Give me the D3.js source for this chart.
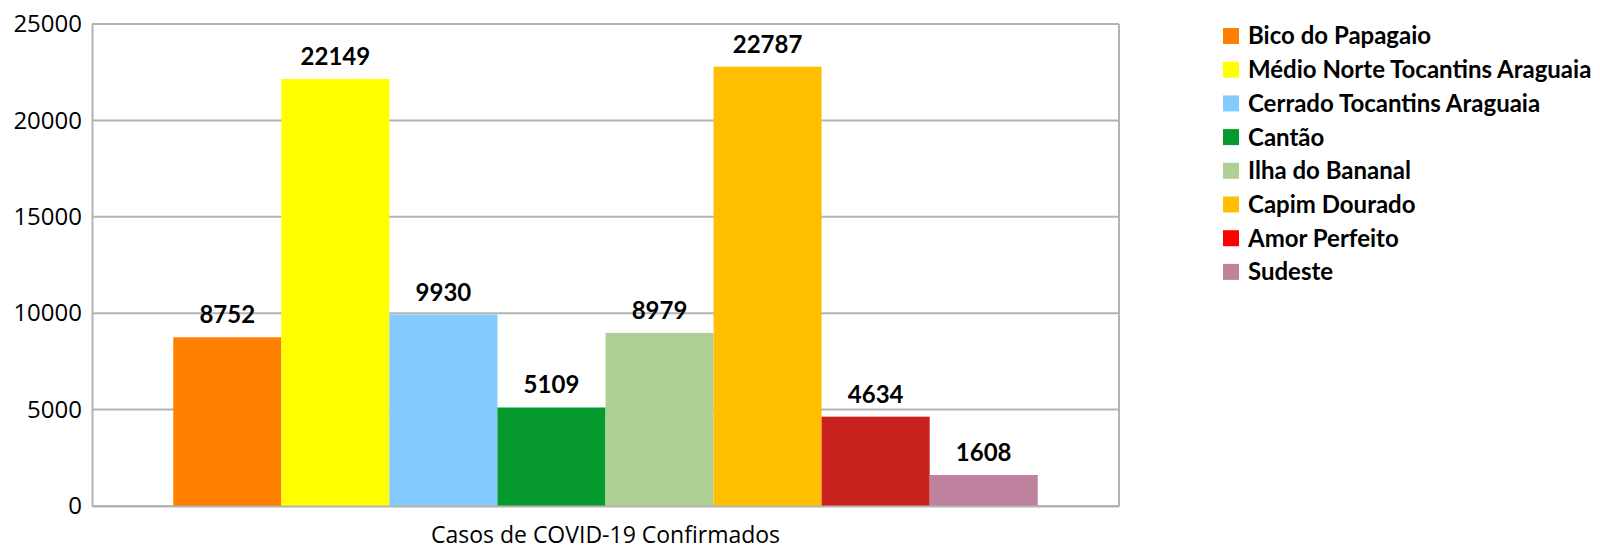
<!DOCTYPE html>
<html>
<head>
  <meta charset="utf-8">
  <title>Casos de COVID-19 Confirmados</title>
  <script src="https://d3js.org/d3.v7.min.js"></script>
  <style>
    body { margin: 0; background: #fff; }
  </style>
</head>
<body>

  <svg width="1600" height="549"></svg>

  <script>

    // Data
    const categories = ["Casos de COVID-19 Confirmados"];
    const regions = [
      "Bico do Papagaio",
      "Médio Norte Tocantins Araguaia",
      "Cerrado Tocantins Araguaia",
      "Cantão",
      "Ilha do Bananal",
      "Capim Dourado",
      "Amor Perfeito",
      "Sudeste"
    ];
    const cases = [8752, 22149, 9930, 5109, 8979, 22787, 4634, 1608];
    const yTicks = [0, 5000, 10000, 15000, 20000, 25000];

    const barColors = ["#ff8000", "#ffff00", "#83caff", "#069a2e", "#afd095", "#ffbf00", "#c9211e", "#bf819e"];
    const legendColors = ["#ff8000", "#ffff00", "#83caff", "#069a2e", "#afd095", "#ffbf00", "#ff0000", "#bf819e"];

    // Chart dimensions
    const width = 1600;
    const height = 549;
    const margin = { top: 24, right: 481, bottom: 43, left: 92 };
    const chartWidth = width - margin.left - margin.right;
    const chartHeight = height - margin.top - margin.bottom;

    const svg = d3.select("svg")
      .attr("width", width)
      .attr("height", height);

    const chart = svg.append("g")
      .attr("transform", `translate(${margin.left},${margin.top})`);

    // Scales
    const xScale = d3.scaleBand()
      .domain(categories)
      .range([0, chartWidth])
      .paddingOuter(0.094);

    const xInner = d3.scaleBand()
      .domain(regions)
      .range([0, xScale.bandwidth()]);

    const yScale = d3.scaleLinear()
      .domain([0, 25000])
      .range([chartHeight, 0]);

    // Gridlines
    chart.append("g")
      .selectAll("line")
      .data(yTicks)
      .join("line")
        .attr("x1", 0)
        .attr("x2", chartWidth)
        .attr("y1", d => yScale(d))
        .attr("y2", d => yScale(d))
        .attr("stroke", "#b3b3b3")
        .attr("stroke-width", 2);

    // Right border of plot
    chart.append("line")
      .attr("x1", chartWidth).attr("x2", chartWidth)
      .attr("y1", 0).attr("y2", chartHeight)
      .attr("stroke", "#b3b3b3")
      .attr("stroke-width", 2);

    // Bars
    const group = chart.selectAll(".cat")
      .data(categories)
      .join("g")
        .attr("class", "cat")
        .attr("transform", d => `translate(${xScale(d)},0)`);

    group.selectAll("rect")
      .data(regions.map((r, i) => ({ name: r, value: cases[i], color: barColors[i] })))
      .join("rect")
        .attr("x", d => xInner(d.name))
        .attr("y", d => yScale(d.value))
        .attr("width", xInner.bandwidth())
        .attr("height", d => chartHeight - yScale(d.value))
        .attr("fill", d => d.color);

    // Value labels
    group.selectAll("text.value")
      .data(regions.map((r, i) => ({ name: r, value: cases[i] })))
      .join("text")
        .attr("class", "value")
        .attr("x", d => xInner(d.name) + xInner.bandwidth() / 2)
        .attr("y", d => yScale(d.value) - 14)
        .attr("text-anchor", "middle")
        .attr("font-family", "Lato, 'Open Sans', sans-serif")
        .attr("font-weight", "bold")
        .attr("font-size", 24)
        .attr("fill", "#000")
        .text(d => d.value);

    // Y axis
    const yAxis = chart.append("g")
      .call(d3.axisLeft(yScale).tickValues(yTicks).tickSize(0).tickPadding(10).tickFormat(d3.format("d")));
    yAxis.select(".domain").attr("stroke", "#b3b3b3").attr("stroke-width", 2);
    yAxis.selectAll("text")
      .attr("font-family", "'Open Sans', sans-serif")
      .attr("font-size", 24)
      .attr("fill", "#000");

    // X axis
    const xAxis = chart.append("g")
      .attr("transform", `translate(0,${chartHeight})`)
      .call(d3.axisBottom(xScale).tickSize(0).tickPadding(21));
    xAxis.select(".domain").attr("stroke", "#b3b3b3").attr("stroke-width", 2);
    xAxis.selectAll("text")
      .attr("font-family", "'Open Sans', sans-serif")
      .attr("font-size", 23)
      .attr("fill", "#000");

    // Legend
    const legend = svg.append("g")
      .attr("transform", "translate(1223,36)");

    const item = legend.selectAll("g")
      .data(regions)
      .join("g")
        .attr("transform", (d, i) => `translate(0,${i * 33.7})`);

    item.append("rect")
      .attr("x", 0)
      .attr("y", -8)
      .attr("width", 16)
      .attr("height", 16)
      .attr("fill", (d, i) => legendColors[i]);

    item.append("text")
      .attr("x", 25)
      .attr("y", 0)
      .attr("dy", "0.35em")
      .attr("font-family", "Lato, 'Open Sans', sans-serif")
      .attr("font-weight", "bold")
      .attr("font-size", 24)
      .attr("fill", "#000")
      .text(d => d);

  </script>

</body>
</html>
